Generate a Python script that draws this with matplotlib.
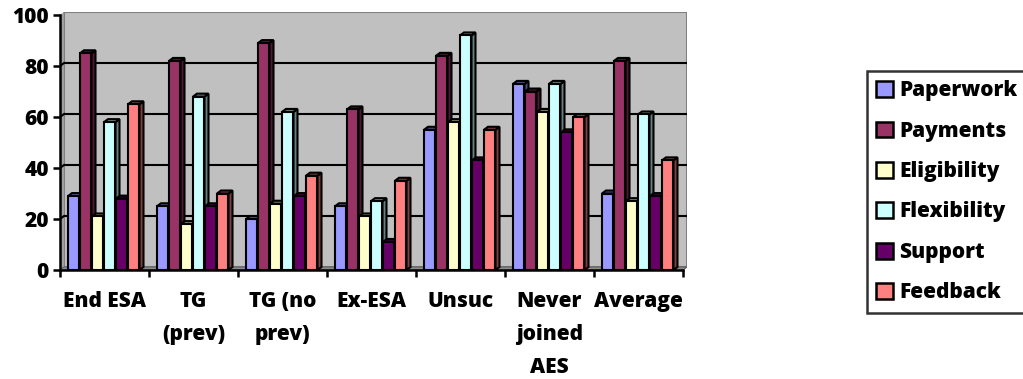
import matplotlib
matplotlib.use("Agg")
import matplotlib.pyplot as plt
from matplotlib.patches import Polygon, Patch
from matplotlib.colors import to_rgb
import numpy as np

FONT = ['Open Sans', 'DejaVu Sans']
WEIGHT = 800
plt.rcParams['font.family'] = FONT
plt.rcParams['font.weight'] = WEIGHT

categories = ["End ESA", "TG\n(prev)", "TG (no\nprev)", "Ex-ESA", "Unsuc",
              "Never\njoined\nAES", "Average"]
series_names = ["Paperwork", "Payments", "Eligibility", "Flexibility",
                "Support", "Feedback"]

paperwork = [29, 25, 20, 25, 55, 73, 30]
payments = [85, 82, 89, 63, 84, 70, 82]
eligibility = [21, 18, 26, 21, 58, 62, 27]
flexibility = [58, 68, 62, 27, 92, 73, 61]
support = [28, 25, 29, 11, 43, 54, 29]
feedback = [65, 30, 37, 35, 55, 60, 43]

series_values = [paperwork, payments, eligibility, flexibility, support, feedback]
colors = ["#9999FF", "#993366", "#FFFFCC", "#CCFFFF", "#660066", "#FF8080"]


def shade(c, f):
    r, g, b = to_rgb(c)
    return (r * f, g * f, b * f)


W, H = 1023, 379
fig = plt.figure(figsize=(W / 100, H / 100), dpi=100)

# axes box in pixels: x 60..687, y 12..270
ax = fig.add_axes([60 / W, (H - 270) / H, 627 / W, 258 / H])
xmin, xmax = -0.5, 6.545
ymin, ymax = 0, 101.2
ax.set_xlim(xmin, xmax)
ax.set_ylim(ymin, ymax)
ax.patch.set_visible(False)

# depth offset of the 3D effect in data units (about 4 px right, 3 px up)
dx = 4 / 89
dy = 3 / 2.55

# back wall
wall = Polygon([(-0.5 + dx, dy), (6.5 + dx, dy), (6.5 + dx, 100 + dy),
                (-0.5 + dx, 100 + dy)], closed=True, facecolor="#C0C0C0",
               edgecolor="#808080", lw=1.5, zorder=0)
ax.add_patch(wall)
# left side wall
ax.add_patch(Polygon([(-0.5, 0), (-0.5 + dx, dy), (-0.5 + dx, 100 + dy),
                      (-0.5, 100)], closed=True, facecolor="#A0A0A0",
                     edgecolor="none", zorder=0.5))
# floor
ax.add_patch(Polygon([(-0.5, 0), (6.5, 0), (6.5 + dx, dy), (-0.5 + dx, dy)],
                     closed=True, facecolor="#8C8C8C", edgecolor="#606060",
                     lw=0.8, zorder=0.5))

# gridlines on the back wall
for v in range(20, 100, 20):
    ax.plot([-0.5 + dx, 6.5 + dx], [v + dy, v + dy], color="black", lw=1.5,
            zorder=1, solid_capstyle="butt")
    ax.plot([-0.5, -0.5 + dx], [v, v + dy], color="black", lw=1.5, zorder=1)

# 3D columns
pitch = 12 / 89
bw = 11.5 / 89
start = 8 / 89
z = 2
for ci in range(len(categories)):
    for si, vals in enumerate(series_values):
        v = vals[ci]
        x0 = ci - 0.5 + start + si * pitch
        c = colors[si]
        side = Polygon([(x0 + bw, 0), (x0 + bw + dx, dy), (x0 + bw + dx, v + dy),
                        (x0 + bw, v)], closed=True, facecolor=shade(c, 0.5),
                       edgecolor="black", lw=1.5, zorder=z)
        top = Polygon([(x0, v), (x0 + bw, v), (x0 + bw + dx, v + dy),
                       (x0 + dx, v + dy)], closed=True, facecolor=shade(c, 0.55),
                      edgecolor="black", lw=1.5, zorder=z)
        ax.add_patch(side)
        ax.add_patch(top)
        ax.bar(x0, v, width=bw, align="edge", color=c, edgecolor="black",
               lw=1.5, zorder=z + 0.5)
        z += 1

# axes lines and ticks
for s in ["top", "right"]:
    ax.spines[s].set_visible(False)
ax.spines["left"].set_bounds(0, 100)
ax.spines["bottom"].set_bounds(-0.5, 6.5)
for s in ["left", "bottom"]:
    ax.spines[s].set_linewidth(1.8)
    ax.spines[s].set_zorder(200)

ax.set_yticks(range(0, 101, 20))
ax.tick_params(axis="y", length=5, width=1.8, pad=3, labelsize=15)
for lab in ax.get_yticklabels():
    lab.set_fontweight(WEIGHT)

ax.set_xticks(np.arange(-0.5, 7, 1.0))
ax.set_xticklabels([])
ax.tick_params(axis="x", which="major", length=5, width=1.8)
ax.set_xticks(np.arange(len(categories)), minor=True)
ax.set_xticklabels(categories, minor=True, fontsize=15, fontweight=WEIGHT,
                   linespacing=1.75, va="top")
ax.tick_params(axis="x", which="minor", length=0, pad=15)

# legend
handles = [Patch(facecolor=c, edgecolor="black", lw=1.8) for c in colors]
leg = fig.legend(handles, series_names, loc="upper left",
                 bbox_to_anchor=(867 / W, 1 - 71 / H),
                 prop={"family": FONT, "weight": WEIGHT, "size": 15},
                 frameon=True, fancybox=False, edgecolor="black",
                 handlelength=0.8, handleheight=0.8, handletextpad=0.3,
                 labelspacing=0.93, borderpad=0.45, borderaxespad=0)
leg.get_frame().set_linewidth(1.8)

fig.savefig("out.png", dpi=100)
